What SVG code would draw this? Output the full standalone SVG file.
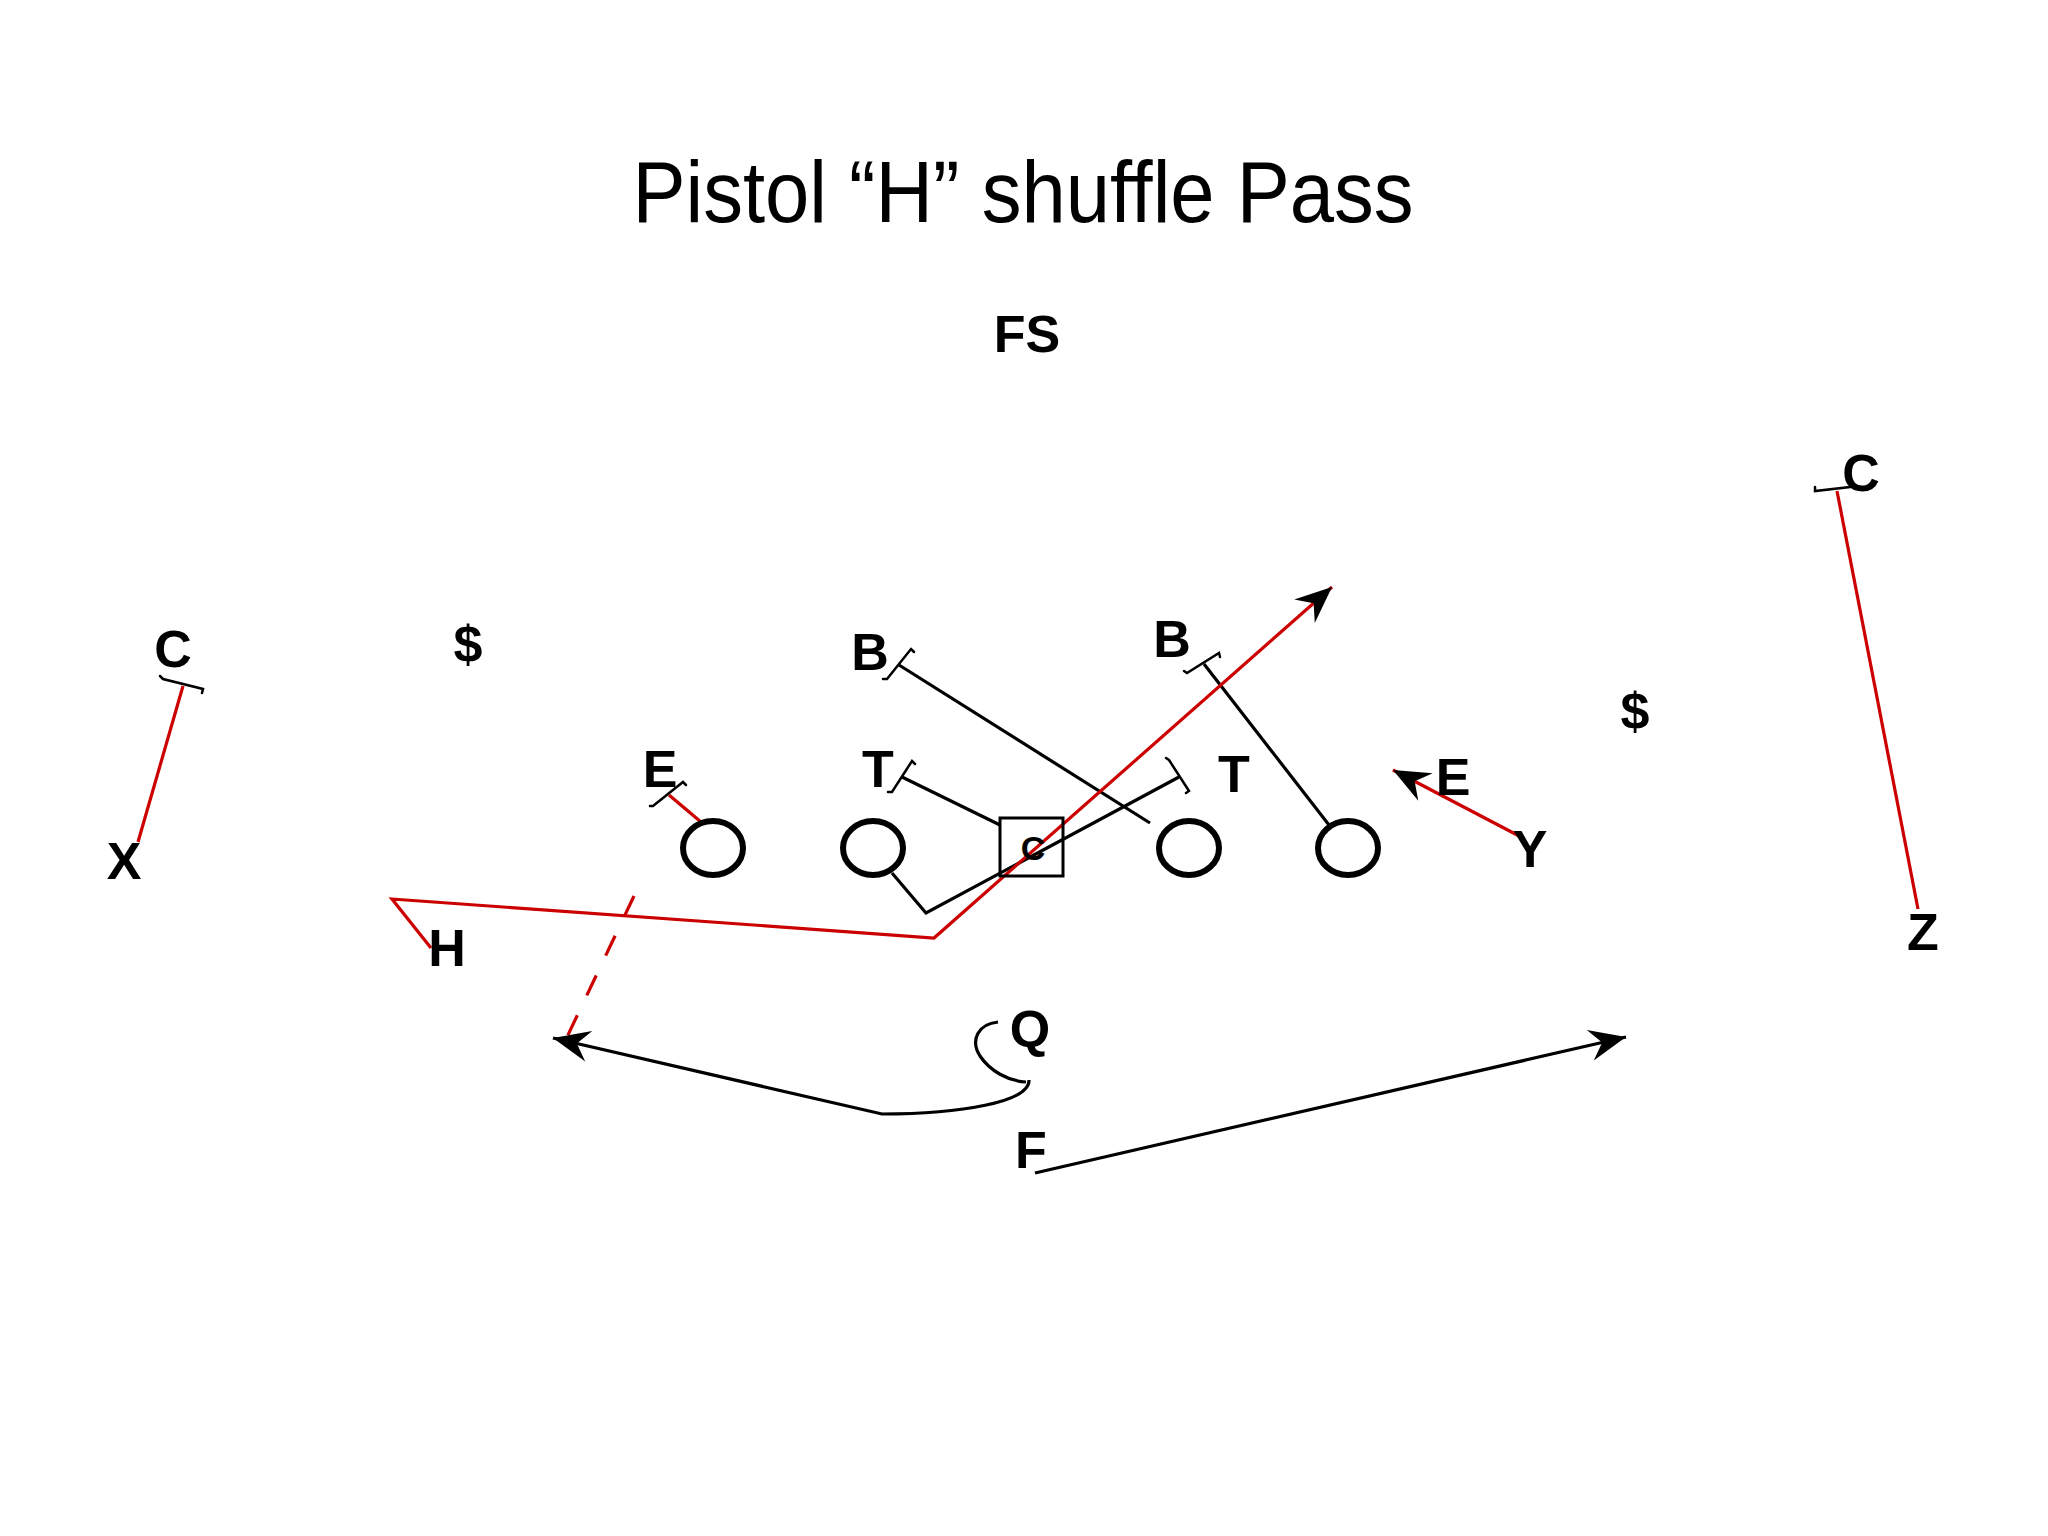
<svg xmlns="http://www.w3.org/2000/svg" width="2048" height="1536" viewBox="0 0 2048 1536">
  <style>
    .title { font-family: "Liberation Sans", Arial, sans-serif; font-size: 88px; fill: #000; text-anchor: middle; }
    .lbl { font-family: "Liberation Sans", Arial, sans-serif; font-size: 52px; font-weight: bold; fill: #000; text-anchor: middle; }
    .lblsm { font-family: "Liberation Sans", Arial, sans-serif; font-size: 34px; font-weight: bold; fill: #000; text-anchor: middle; }
    .red { fill: none; stroke: #cc0000; stroke-width: 3.2; stroke-linejoin: miter; }
    .blk { fill: none; stroke: #000; stroke-width: 3.2; }
    .brk { fill: none; stroke: #000; stroke-width: 2.5; stroke-linecap: round; }
    .man { fill: #fff; stroke: #000; stroke-width: 6; }
    .box { fill: none; stroke: #000; stroke-width: 3; }
  </style>
  <defs>
    <marker id="arr" markerUnits="userSpaceOnUse" markerWidth="40" markerHeight="40" viewBox="-34 -16 36 32" refX="0" refY="0" orient="auto">
      <path d="M0,0 L-33,-14 L-22,0 L-33,14 Z" fill="#000"/>
    </marker>
  </defs>
  <rect width="2048" height="1536" fill="#fff"/>

  <text class="title" x="1023" y="222" textLength="781" lengthAdjust="spacingAndGlyphs">Pistol “H” shuffle Pass</text>

  <g id="connectors">
    <!-- X route to C -->
    <line class="red" x1="138" y1="842" x2="183" y2="686"/>
    <!-- left E block -->
    <line class="red" x1="701" y1="822" x2="669" y2="795"/>
    <!-- left T block -->
    <line class="blk" x1="1000" y1="825" x2="902" y2="777"/>
    <!-- left B block -->
    <line class="blk" x1="1150" y1="823" x2="899" y2="665"/>
    <!-- right T block (from guard) -->
    <polyline class="blk" points="892,873 926,913 1179,777"/>
    <!-- right B block -->
    <line class="blk" x1="1329" y1="825" x2="1204" y2="664"/>
    <!-- Y to E -->
    <line class="red" x1="1523" y1="838" x2="1393" y2="770" marker-end="url(#arr)"/>
    <!-- Z route to C -->
    <line class="red" x1="1918" y1="909" x2="1837" y2="491"/>
    <!-- H shuffle route -->
    <polyline class="red" points="431,948 392,899 934,938 1332,587" marker-end="url(#arr)"/>
    <!-- pitch (dashed) -->
    <line class="red" x1="634" y1="896" x2="567" y2="1037" stroke-dasharray="22,22"/>
    <!-- Q route -->
    <path class="blk" d="M998,1022 C978,1024 970,1040 980,1056 C990,1071 1008,1081 1026,1082"/>
    <path class="blk" d="M1029,1080 C1030,1102 960,1114 882,1114 L553,1038" marker-end="url(#arr)"/>
    <!-- F route -->
    <line class="blk" x1="1035" y1="1173" x2="1626" y2="1037" marker-end="url(#arr)"/>
    <!-- block brackets -->
    <path class="brk" d="M160,676 L163,679 L203,689 L202,693"/>
    <path class="brk" d="M650,806 L653,806 L683,782 L686,785"/>
    <path class="brk" d="M888,792 L892,792 L912,761 L915,764"/>
    <path class="brk" d="M883,679 L887,679 L911,649 L914,652"/>
    <path class="brk" d="M1184,671 L1187,673 L1219,653 L1220,657"/>
    <path class="brk" d="M1166,758 L1169,760 L1189,791 L1186,793"/>
    <path class="brk" d="M1815,487 L1815,491 L1850,487 L1852,484"/>
  </g>

  <g id="linemen">
    <ellipse id="le" class="man" cx="713" cy="848" rx="30" ry="27"/>
    <ellipse id="lg" class="man" cx="873" cy="848" rx="30" ry="27"/>
    <ellipse id="rg" class="man" cx="1189" cy="848" rx="30" ry="27"/>
    <ellipse id="rt" class="man" cx="1348" cy="848" rx="30" ry="27"/>
  </g>
  <g id="center">
    <rect class="box" x="1000" y="818" width="63" height="58"/>
    <text class="lblsm" x="1033" y="860">C</text>
  </g>

  <g id="fs"><text class="lbl" x="1027" y="352">FS</text></g>
  <g id="cb-left"><text class="lbl" x="173" y="667">C</text></g>
  <g id="ss-left"><text class="lbl" x="468" y="662">$</text></g>
  <g id="b-left"><text class="lbl" x="870" y="670">B</text></g>
  <g id="b-right"><text class="lbl" x="1172" y="657">B</text></g>
  <g id="cb-right"><text class="lbl" x="1861" y="491">C</text></g>
  <g id="ss-right"><text class="lbl" x="1635" y="729">$</text></g>
  <g id="e-left"><text class="lbl" x="660" y="787">E</text></g>
  <g id="t-left"><text class="lbl" x="878" y="787">T</text></g>
  <g id="t-right"><text class="lbl" x="1234" y="792">T</text></g>
  <g id="e-right"><text class="lbl" x="1453" y="795">E</text></g>
  <g id="y"><text class="lbl" x="1530" y="867">Y</text></g>
  <g id="x"><text class="lbl" x="124" y="879">X</text></g>
  <g id="h"><text class="lbl" x="447" y="966">H</text></g>
  <g id="z"><text class="lbl" x="1923" y="950">Z</text></g>
  <g id="q"><text class="lbl" x="1030" y="1047">Q</text></g>
  <g id="f"><text class="lbl" x="1031" y="1168">F</text></g>
</svg>
